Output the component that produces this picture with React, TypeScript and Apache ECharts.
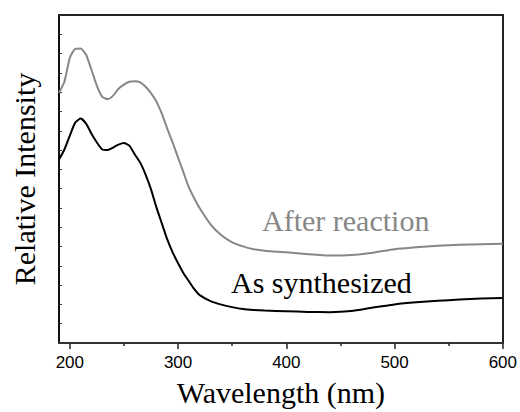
import React, { useEffect, useRef } from "react";
import * as echarts from "echarts";

// UV-vis spectra: wavelength (nm) vs. relative intensity (arb. units)
const wavelengths = [
  190, 195, 200, 205, 210, 215, 220, 225, 230, 235, 240, 245, 250, 255, 260, 265, 270, 275, 280, 285,
  290, 295, 300, 305, 310, 315, 320, 330, 340, 350, 360, 370, 380, 400, 420, 440, 460, 480, 500, 520,
  540, 560, 580, 600,
];

const afterReaction = [
  12.97, 13.54, 14.78, 15.25, 15.27, 14.94, 14.16, 13.33, 12.76, 12.64, 12.82, 13.18, 13.39, 13.54, 13.57, 13.51,
  13.28, 12.95, 12.51, 11.89, 11.11, 10.39, 9.61, 8.84, 8.06, 7.49, 6.98, 6.15, 5.58, 5.22, 5.01, 4.86, 4.78,
  4.7, 4.6, 4.53, 4.56, 4.68, 4.86, 4.96, 5.04, 5.09, 5.12, 5.15,
];

const asSynthesized = [
  9.51, 10.03, 10.75, 11.42, 11.63, 11.37, 10.85, 10.39, 10.03, 10.0, 10.13, 10.28, 10.36, 10.23, 9.77, 9.35,
  8.73, 7.96, 7.03, 6.2, 5.37, 4.7, 4.13, 3.62, 3.2, 2.79, 2.48, 2.17, 1.99, 1.86, 1.76, 1.71, 1.68, 1.65, 1.61,
  1.6, 1.66, 1.84, 2.0, 2.11, 2.19, 2.25, 2.3, 2.33,
];

const xTickLabels = [200, 300, 400, 500, 600];
const xMinorTicks = [250, 350, 450, 550];

const SERIF = "Liberation Serif";
const SANS = "Liberation Sans";

export default function App() {
  const ref = useRef<HTMLDivElement>(null);

  useEffect(() => {
    if (!ref.current) return;
    const chart = echarts.init(ref.current, null, { renderer: "svg" });
    const pairs = (ys: number[]) => wavelengths.map((w, i) => [w, ys[i]]);

    const frameLine = { show: true, lineStyle: { color: "#222", width: 2 } };

    chart.setOption({
      animation: false,
      backgroundColor: "#fff",
      grid: { left: 59, right: 17, top: 15, bottom: 69 },
      xAxis: [
        {
          type: "value",
          min: 190,
          max: 600,
          position: "bottom",
          axisLine: { show: true, lineStyle: { color: "#333", width: 2 } },
          axisTick: { show: true, inside: false, length: 6, customValues: xTickLabels, lineStyle: { color: "#222", width: 1.5 } },
          axisLabel: { customValues: xTickLabels, margin: 11, fontFamily: SANS, fontSize: 17, color: "#000" },
          splitLine: { show: false },
          name: "Wavelength (nm)",
          nameLocation: "middle",
          nameGap: 34,
          nameTextStyle: { fontFamily: SERIF, fontSize: 30, color: "#000" },
        },
        {
          type: "value",
          min: 190,
          max: 600,
          position: "bottom",
          axisLine: { show: false },
          axisTick: { show: true, inside: false, length: 3, customValues: xMinorTicks, lineStyle: { color: "#222", width: 1.5 } },
          axisLabel: { show: false },
          splitLine: { show: false },
        },
        {
          type: "value",
          min: 190,
          max: 600,
          position: "top",
          axisLine: frameLine,
          axisTick: { show: false },
          axisLabel: { show: false },
          splitLine: { show: false },
        },
      ],
      yAxis: [
        {
          type: "value",
          min: 0,
          max: 17,
          interval: 1,
          position: "left",
          axisLine: { show: true, lineStyle: { color: "#111", width: 2 } },
          axisTick: { show: true, inside: true, length: 3, lineStyle: { color: "#333", width: 1 } },
          axisLabel: { show: false },
          splitLine: { show: false },
          name: "Relative Intensity",
          nameLocation: "middle",
          nameGap: 20,
          nameRotate: 90,
          nameTextStyle: { fontFamily: SERIF, fontSize: 30, color: "#000" },
        },
        {
          type: "value",
          min: 0,
          max: 17,
          position: "right",
          axisLine: frameLine,
          axisTick: { show: false },
          axisLabel: { show: false },
          splitLine: { show: false },
        },
      ],
      series: [
        {
          name: "After reaction",
          type: "line",
          data: pairs(afterReaction),
          showSymbol: false,
          smooth: 0.2,
          lineStyle: { color: "#878787", width: 2 },
        },
        {
          name: "As synthesized",
          type: "line",
          data: pairs(asSynthesized),
          showSymbol: false,
          smooth: 0.2,
          lineStyle: { color: "#000", width: 2 },
        },
      ],
      graphic: [
        {
          type: "text",
          left: 262,
          top: 205,
          style: { text: "After reaction", fontFamily: SERIF, fontSize: 30, fill: "#878787" },
        },
        {
          type: "text",
          left: 231,
          top: 267,
          style: { text: "As synthesized", fontFamily: SERIF, fontSize: 30, fill: "#000" },
        },
      ],
    });

    return () => chart.dispose();
  }, []);

  return <div ref={ref} style={{ position: "absolute", left: 0, top: 0, width: 520, height: 412 }} />;
}
